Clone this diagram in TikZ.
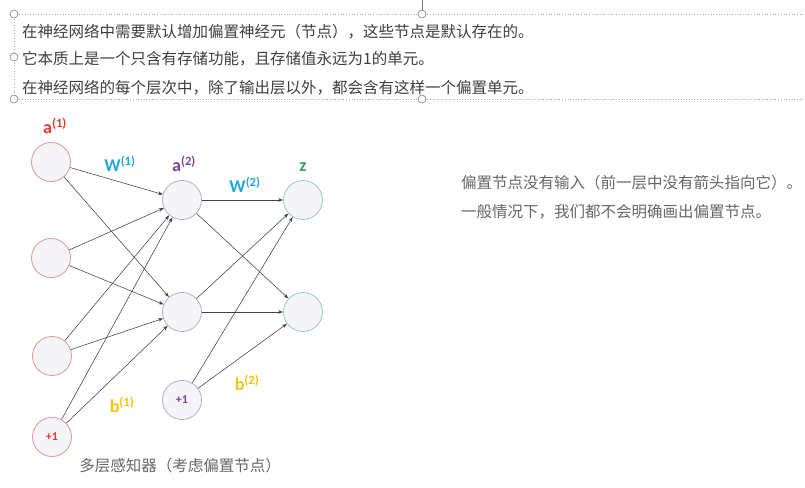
\documentclass[tikz,border=0pt]{standalone}
\usepackage{fontspec}
\setmainfont{Carlito}
\newfontfamily\cjk{Noto Sans CJK SC}
\usetikzlibrary{arrows.meta}
\definecolor{inred}{HTML}{E39595}
\definecolor{hidpurple}{HTML}{B7AFCB}
\definecolor{outgreen}{HTML}{8FD1B0}
\definecolor{nodefill}{HTML}{F5F5F7}
\definecolor{arrowgray}{HTML}{404040}
\definecolor{labred}{HTML}{E8342F}
\definecolor{labblue}{HTML}{22A7E0}
\definecolor{labpurple}{HTML}{7B3F9E}
\definecolor{labgreen}{HTML}{2EA860}
\definecolor{labgold}{HTML}{F2C40F}
\definecolor{textgray}{HTML}{3E3E3E}
\definecolor{framegray}{HTML}{A8A8A8}

\begin{document}
\begin{tikzpicture}[x=1pt, y=-1pt,
  neuron/.style={circle, minimum size=39pt, inner sep=0pt, fill=nodefill, line width=0.8pt},
  inn/.style={neuron, draw=inred},
  hid/.style={neuron, draw=hidpurple},
  outn/.style={neuron, draw=outgreen},
  plusone/.style={font=\bfseries\fontsize{12}{14}\selectfont},
  arr/.style={-{Stealth[length=5pt, width=3.5pt]}, draw=arrowgray, line width=0.55pt},
  lab/.style={font=\bfseries\fontsize{18}{20}\selectfont, inner sep=0pt},
  cn/.style={font=\cjk\fontsize{15.5}{18}\selectfont, text=textgray, anchor=west, inner sep=0pt},
  frame/.style={draw=framegray, dotted, line width=0.7pt},
  handle/.style={circle, draw=gray, fill=white, minimum size=8pt, inner sep=0pt, line width=0.6pt}
]
\useasboundingbox (0,0) rectangle (805,487);

% text box on top
\draw[frame] (14,14) -- (805,14);
\draw[frame] (14,99) -- (805,99);
\draw[frame] (14,14) -- (14,99);
\node[handle] (hdtl) at (14,14) {};
\node[handle] (hdtm) at (422,14) {};
\node[handle] (hdml) at (14,57) {};
\node[handle] (hdbl) at (14,99) {};
\node[handle] (hdbm) at (422,99) {};
\coordinate (topend) at (422,0);
\draw[gray, line width=0.6pt] (topend) -- (hdtm.north);
\node[cn] (line1) at (22,32) {在神经网络中需要默认增加偏置神经元（节点），这些节点是默认存在的。};
\node[cn] (line2) at (22,59) {它本质上是一个只含有存储功能，且存储值永远为1的单元。};
\node[cn] (line3) at (22,88) {在神经网络的每个层次中，除了输出层以外，都会含有这样一个偏置单元。};

% network
\node[inn] (x1) at (51,162) {};
\node[inn] (x2) at (51,258) {};
\node[inn] (x3) at (52,356) {};
\node[inn, plusone, text=labred] (b1) at (52,437) {+1};
\node[hid] (h1) at (182,200) {};
\node[hid] (h2) at (182,312) {};
\node[hid, plusone, text=labpurple] (b2) at (182,400) {+1};
\node[outn] (o1) at (303,200) {};
\node[outn] (o2) at (303,312) {};

\foreach \s in {x1,x2,x3,b1}
  \foreach \t in {h1,h2}
    \draw[arr] (\s) -- (\t);
\foreach \s in {h1,h2,b2}
  \foreach \t in {o1,o2}
    \draw[arr] (\s) -- (\t);

% labels
\node[lab, text=labred] (la1) at (55,126) {a\textsuperscript{(1)}};
\node[lab, text=labblue] (lw1) at (120,164) {W\textsuperscript{(1)}};
\node[lab, text=labpurple] (la2) at (184,164) {a\textsuperscript{(2)}};
\node[lab, text=labblue] (lw2) at (245,185) {W\textsuperscript{(2)}};
\node[lab, text=labgreen] (lz) at (303,167) {z};
\node[lab, text=labgold] (lb1) at (122,405) {b\textsuperscript{(1)}};
\node[lab, text=labgold] (lb2) at (247,383) {b\textsuperscript{(2)}};

\node[cn, anchor=center, text=gray!80!black] (caption) at (180,466) {多层感知器（考虑偏置节点）};

% note on the right
\node[cn, text=gray!80!black] (note1) at (461,183) {偏置节点没有输入（前一层中没有箭头指向它）。};
\node[cn, text=gray!80!black] (note2) at (461,212) {一般情况下，我们都不会明确画出偏置节点。};
\end{tikzpicture}
\end{document}
